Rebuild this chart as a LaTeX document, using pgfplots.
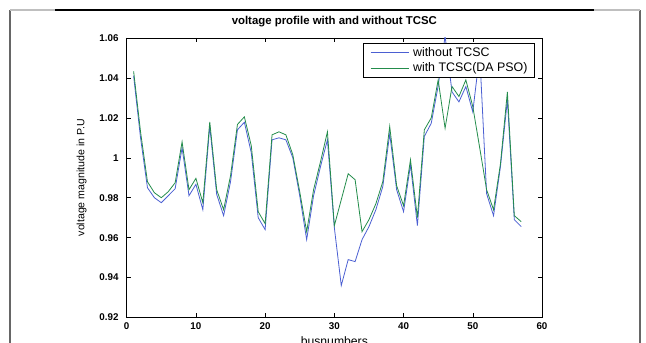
\documentclass[border=0pt]{standalone}
\usepackage{pgfplots}
\pgfplotsset{compat=1.18}
\usepackage{fontspec}
\setmainfont{Liberation Sans}
\definecolor{mblue}{RGB}{75,95,210}
\definecolor{mgreen}{RGB}{35,140,75}
\begin{document}
\begin{tikzpicture}[x=1pt,y=1pt]
\useasboundingbox (0,0) rectangle (646,343);
% outer frame
\draw[black!60, line width=1.6pt] (10,-2) -- (10,333);
\draw[black!60, line width=1.6pt] (640,-2) -- (640,333);
\draw[black!25, line width=1.2pt] (10,333) -- (55,333);
\draw[black, line width=1.2pt] (55,333) -- (594,333);
\draw[black!25, line width=1.2pt] (594,333) -- (640,333);
\begin{axis}[
  at={(126.7pt,25.5pt)}, anchor=south west,
  scale only axis, width=415.3pt, height=279.5pt,
  xmin=0, xmax=60, ymin=0.92, ymax=1.06,
  xtick={0,10,20,30,40,50,60},
  ytick={0.92,0.94,0.96,0.98,1,1.02,1.04,1.06},
  yticklabels={0.92,0.94,0.96,0.98,1,1.02,1.04,1.06},
  tick align=inside, major tick length=4pt,
  axis line style={line width=0.6pt},
  every tick/.style={black, line width=0.5pt},
  /pgf/number format/assume math mode=true,
  tick label style={font=\bfseries\fontsize{9.8}{11}\selectfont},
  xticklabel style={anchor=north, inner sep=0pt, yshift=-4.5pt},
  yticklabel style={anchor=east, inner sep=0pt, xshift=-8pt},
  title={voltage profile with and without TCSC},
  title style={at={(0.5,1)}, anchor=base, yshift=7pt, inner sep=0pt, font=\bfseries\fontsize{11.4}{13}\selectfont},
  xlabel={busnumbers},
  xlabel style={at={(0.5,0)}, anchor=base, yshift=-28pt, inner sep=0pt, font=\fontsize{12.2}{14}\selectfont},
  ylabel={voltage magnitude in P.U},
  ylabel style={at={(0,0.5)}, anchor=center, yshift=45pt, inner sep=0pt, font=\fontsize{10.6}{12}\selectfont},
  legend style={at={(1,1)}, anchor=north east, xshift=-7pt, yshift=-5pt,
    draw=black, line width=0.5pt, fill=white,
    font=\fontsize{12.4}{14}\selectfont,
    inner xsep=7.3pt, inner ysep=3pt, column sep=4pt, row sep=3pt,
    nodes={inner xsep=0pt, inner ysep=1pt},
    cells={anchor=west}},
  legend image code/.code={\draw[#1, line width=0.8pt] (0pt,0pt) -- (38pt,0pt);},
]
\addplot[mblue, line width=0.8pt] coordinates {
(1,1.041) (2,1.010) (3,0.985) (4,0.980) (5,0.9775) (6,0.981) (7,0.9845) (8,1.005)
(9,0.981) (10,0.9867) (11,0.974) (12,1.0158) (13,0.9817) (14,0.971) (15,0.988) (16,1.014)
(17,1.0178) (18,1.0025) (19,0.970) (20,0.964) (21,1.009) (22,1.010) (23,1.009) (24,1.000)
(25,0.981) (26,0.959) (27,0.981) (28,0.9956) (29,1.009) (30,0.965) (31,0.936) (32,0.949)
(33,0.948) (34,0.959) (35,0.9655) (36,0.974) (37,0.9856) (38,1.012) (39,0.984) (40,0.973)
(41,0.9965) (42,0.966) (43,1.0107) (44,1.0173) (45,1.036) (46,1.061) (47,1.033) (48,1.028)
(49,1.0357) (50,1.023) (51,1.052) (52,0.982) (53,0.971) (54,0.9956) (55,1.029) (56,0.969)
(57,0.9655)
};
\addlegendentry{without TCSC}
\addplot[mgreen, line width=0.8pt] coordinates {
(1,1.0433) (2,1.013) (3,0.988) (4,0.9825) (5,0.980) (6,0.983) (7,0.9875) (8,1.008)
(9,0.984) (10,0.9897) (11,0.9775) (12,1.018) (13,0.984) (14,0.974) (15,0.991) (16,1.0167)
(17,1.0205) (18,1.006) (19,0.973) (20,0.967) (21,1.0115) (22,1.013) (23,1.0115) (24,1.0015)
(25,0.983) (26,0.963) (27,0.984) (28,0.998) (29,1.013) (30,0.966) (31,0.979) (32,0.992)
(33,0.989) (34,0.963) (35,0.969) (36,0.977) (37,0.988) (38,1.0157) (39,0.986) (40,0.976)
(41,0.999) (42,0.970) (43,1.014) (44,1.020) (45,1.039) (46,1.0148) (47,1.0357) (48,1.0307)
(49,1.039) (50,1.0257) (51,1.005) (52,0.984) (53,0.974) (54,0.997) (55,1.033) (56,0.971)
(57,0.968)
};
\addlegendentry{with TCSC(DA PSO)}
\end{axis}
\end{tikzpicture}
\end{document}
